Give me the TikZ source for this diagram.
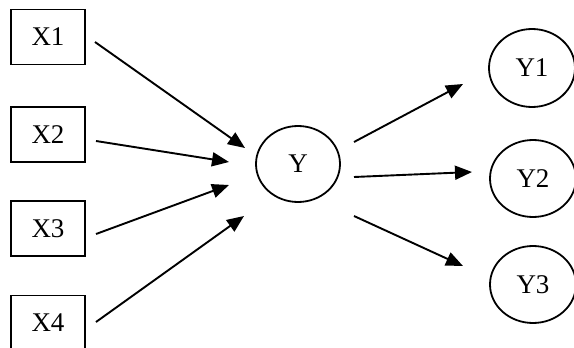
\documentclass[tikz,border=0pt]{standalone}
\usepackage{fontspec}
\setmainfont{Liberation Serif}
\usetikzlibrary{arrows.meta,shapes.geometric}
\begin{document}
\begin{tikzpicture}[x=1pt,y=-1pt,
  xbox/.style={draw,line width=1.9pt,minimum width=74pt,minimum height=55pt,inner sep=0pt,font=\fontsize{27}{31}\selectfont},
  yell/.style={draw,ellipse,line width=1.8pt,inner sep=0pt,font=\fontsize{27}{31}\selectfont},
  conn/.style={line width=1.9pt,-{Triangle[length=17pt,width=14pt]}}]
\useasboundingbox (0,0) rectangle (574,348);
\begin{scope}
\clip (0,0) rectangle (574,348);
\node[xbox] (X1) at (48,37) {X1};
\node[xbox] (X2) at (48,134.5) {X2};
\node[xbox] (X3) at (48,228.5) {X3};
\node[xbox] (X4) at (48,323) {X4};
\node[yell,minimum width=84pt,minimum height=76pt] (Y) at (298,164) {Y};
\node[yell,minimum width=86pt,minimum height=78pt] (Y1) at (532,68) {Y1};
\node[yell,minimum width=86pt,minimum height=77pt] (Y2) at (533,178.5) {Y2};
\node[yell,minimum width=86pt,minimum height=77pt] (Y3) at (533,284.5) {Y3};
\end{scope}
\coordinate (s1) at (95,42);   \coordinate (e1) at (245,148);
\coordinate (s2) at (96,141);  \coordinate (e2) at (229,162);
\coordinate (s3) at (96,234);  \coordinate (e3) at (229,185);
\coordinate (s4) at (96,322);  \coordinate (e4) at (244,216);
\coordinate (t1) at (354,142); \coordinate (f1) at (463,84);
\coordinate (t2) at (354,177); \coordinate (f2) at (472,172);
\coordinate (t3) at (354,216); \coordinate (f3) at (463,266);
\draw[conn] (s1) -- (e1);
\draw[conn] (s2) -- (e2);
\draw[conn] (s3) -- (e3);
\draw[conn] (s4) -- (e4);
\draw[conn] (t1) -- (f1);
\draw[conn] (t2) -- (f2);
\draw[conn] (t3) -- (f3);
\end{tikzpicture}
\end{document}
